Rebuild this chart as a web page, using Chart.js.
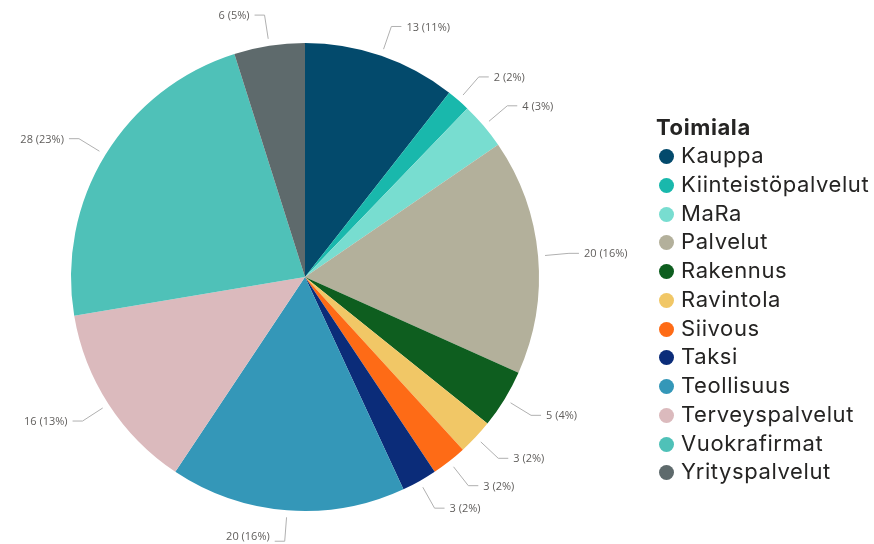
<!DOCTYPE html>
<html>
<head>
<meta charset="utf-8">
<script src="https://cdn.jsdelivr.net/npm/chart.js@4"></script>
<style>
  html, body { margin: 0; padding: 0; background: #fff; }
  #wrap { position: relative; width: 874px; height: 544px; }
  #legend { position: absolute; left: 656px; top: 113px; font-family: Inter, "Noto Sans", sans-serif; color: #252423; }
  #legend .title { font-weight: 700; font-size: 22px; line-height: 28px; letter-spacing: 0.6px; }
  #legend .item { font-size: 22px; line-height: 28.75px; white-space: nowrap; letter-spacing: 0.6px; }
  #legend .dot { display: inline-block; width: 15px; height: 15px; border-radius: 50%; margin: 0 7px 0 3px; vertical-align: -1px; }
</style>
</head>
<body>
<div id="wrap">
  <canvas id="pieChart" width="874" height="544"></canvas>
  <div id="legend"></div>
</div>
<script>
const labels = ['Kauppa', 'Kiinteistöpalvelut', 'MaRa', 'Palvelut', 'Rakennus', 'Ravintola', 'Siivous', 'Taksi', 'Teollisuus', 'Terveyspalvelut', 'Vuokrafirmat', 'Yrityspalvelut'];
const values = [13, 2, 4, 20, 5, 3, 3, 3, 20, 16, 28, 6];
const colors = ['#034a6c', '#19b8ac', '#78ddd0', '#b3b09b', '#0e5e1f', '#f1c766', '#fe6b16', '#0b2c79', '#3497b8', '#dbbabd', '#4fc1b8', '#5e6a6c'];

const total = values.reduce((a, b) => a + b, 0);

// Legend (HTML)
const legendEl = document.getElementById('legend');
let html = '<div class="title">Toimiala</div>';
labels.forEach((name, i) => {
    html += `<div class="item"><span class="dot" style="background:${colors[i]}"></span>${name}</div>`;
});
legendEl.innerHTML = html;

// Outside labels with leader lines
const outsideLabels = {
    id: 'outsideLabels',
    afterDatasetsDraw(chart) {
        const ctx = chart.ctx;
        const meta = chart.getDatasetMeta(0);
        ctx.save();
        ctx.font = '11px "Open Sans", "Noto Sans", sans-serif';
        ctx.textBaseline = 'middle';
        meta.data.forEach((arc, i) => {
            const a = (arc.startAngle + arc.endAngle) / 2;
            const r = arc.outerRadius;
            const cx = arc.x, cy = arc.y;
            const x1 = cx + Math.cos(a) * (r + 7), y1 = cy + Math.sin(a) * (r + 7);
            const x2 = cx + Math.cos(a) * (r + 31), y2 = cy + Math.sin(a) * (r + 31);
            const right = x2 >= cx;
            const x3 = right ? x2 + 10 : x2 - 10;
            ctx.strokeStyle = '#b0b0b0';
            ctx.lineWidth = 1;
            ctx.beginPath();
            ctx.moveTo(x1, y1);
            ctx.lineTo(x2, y2);
            ctx.lineTo(x3, y2);
            ctx.stroke();
            const pct = Math.round(values[i] / total * 100);
            ctx.fillStyle = '#605e5c';
            ctx.textAlign = right ? 'left' : 'right';
            const ty = Math.min(y2 + 1, chart.height - 7);
            ctx.fillText(values[i] + ' (' + pct + '%)', right ? x3 + 5 : x3 - 5, ty);
        });
        ctx.restore();
    }
};

const ctx = document.getElementById('pieChart').getContext('2d');
new Chart(ctx, {
    type: 'pie',
    data: {
        labels: labels,
        datasets: [{
            data: values,
            backgroundColor: colors,
            borderWidth: 0
        }]
    },
    options: {
        responsive: false,
        animation: false,
        layout: { padding: { left: 71, right: 335, top: 43, bottom: 33 } },
        plugins: {
            legend: { display: false },
            tooltip: { enabled: false }
        }
    },
    plugins: [outsideLabels]
});
</script>
</body>
</html>
